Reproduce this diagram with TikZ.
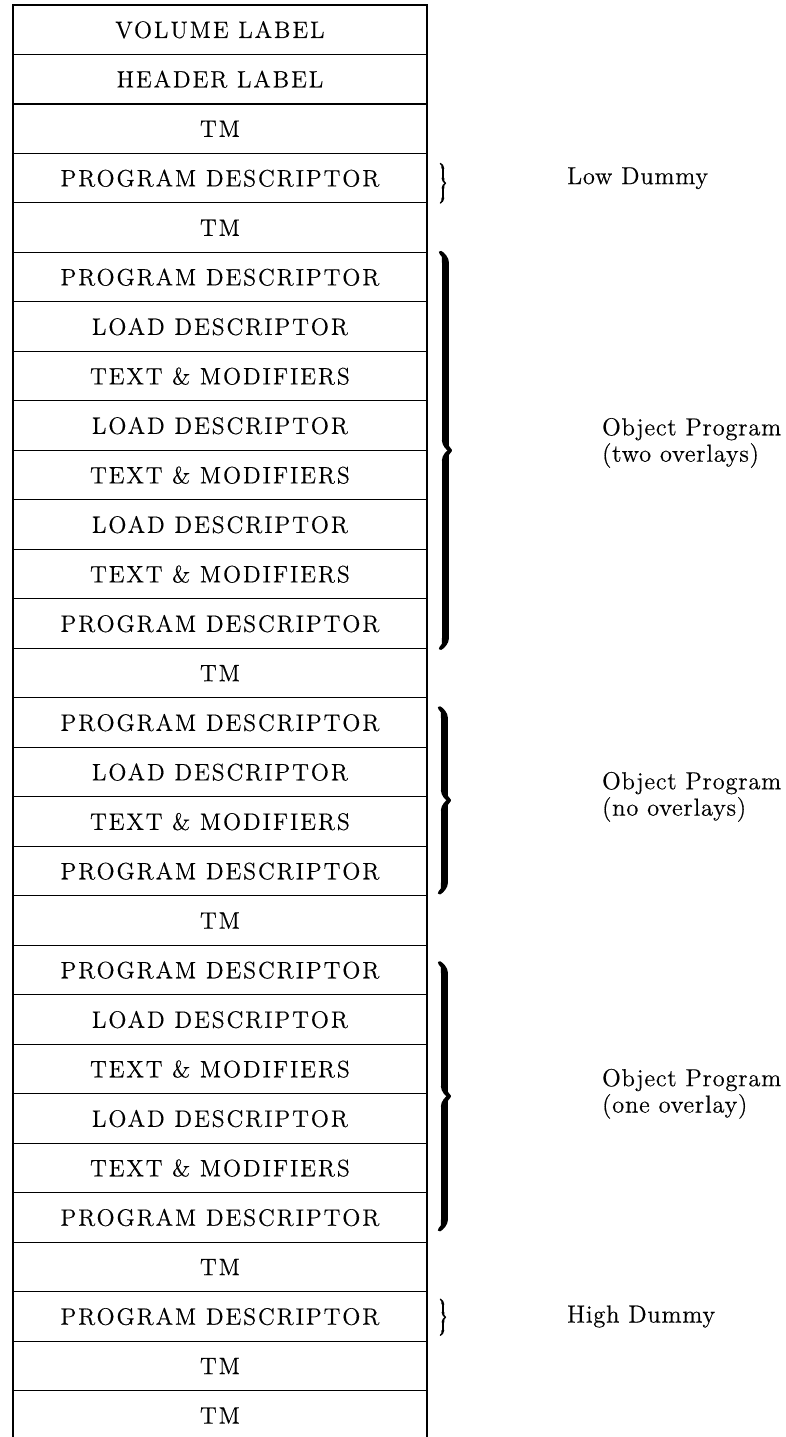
\documentclass[tikz,border=0pt]{standalone}
\usepackage{fontspec}
\usepackage{tikz}
\newfontfamily\cellfont[LetterSpace=8.0, FakeBold=0.4]{Latin Modern Roman}
\newfontfamily\notefont[LetterSpace=3.0, FakeBold=0.4]{Latin Modern Roman}
\usetikzlibrary{positioning, calc, decorations.pathreplacing, calligraphy}

\begin{document}
\begin{tikzpicture}[
        node distance=0cm,
        x=0.02cm, y=-0.02cm,
        cell/.style={rectangle, draw=black, line width=0.6pt, minimum width=8.28cm, minimum height=0.99cm, inner sep=0pt, outer sep=0pt, font=\fontsize{13.5}{16}\cellfont},
        grp/.style={decorate, decoration={calligraphic brace, amplitude=0.2cm}, line width=4pt},
        smallgrp/.style={decorate, decoration={calligraphic brace, amplitude=0.1cm}, line width=1.6pt},
        note/.style={anchor=west, align=left, font=\fontsize{14}{15}\notefont}
    ]
        \useasboundingbox (0,0) rectangle (786,1437);
        \node[cell, anchor=north west] (vol) at (13,5) {VOLUME LABEL};
        \node[cell, below=of vol] (hdr) {HEADER LABEL};
        \node[cell, below=of hdr] (tma) {TM};
        \node[cell, below=of tma] (lowpd) {PROGRAM DESCRIPTOR};
        \node[cell, below=of lowpd] (tmb) {TM};
        \node[cell, below=of tmb] (pda1) {PROGRAM DESCRIPTOR};
        \node[cell, below=of pda1] (lda1) {LOAD DESCRIPTOR};
        \node[cell, below=of lda1] (txa1) {TEXT \& MODIFIERS};
        \node[cell, below=of txa1] (lda2) {LOAD DESCRIPTOR};
        \node[cell, below=of lda2] (txa2) {TEXT \& MODIFIERS};
        \node[cell, below=of txa2] (lda3) {LOAD DESCRIPTOR};
        \node[cell, below=of lda3] (txa3) {TEXT \& MODIFIERS};
        \node[cell, below=of txa3] (pda2) {PROGRAM DESCRIPTOR};
        \node[cell, below=of pda2] (tmc) {TM};
        \node[cell, below=of tmc] (pdb1) {PROGRAM DESCRIPTOR};
        \node[cell, below=of pdb1] (ldb1) {LOAD DESCRIPTOR};
        \node[cell, below=of ldb1] (txb1) {TEXT \& MODIFIERS};
        \node[cell, below=of txb1] (pdb2) {PROGRAM DESCRIPTOR};
        \node[cell, below=of pdb2] (tmd) {TM};
        \node[cell, below=of tmd] (pdc1) {PROGRAM DESCRIPTOR};
        \node[cell, below=of pdc1] (ldc1) {LOAD DESCRIPTOR};
        \node[cell, below=of ldc1] (txc1) {TEXT \& MODIFIERS};
        \node[cell, below=of txc1] (ldc2) {LOAD DESCRIPTOR};
        \node[cell, below=of ldc2] (txc2) {TEXT \& MODIFIERS};
        \node[cell, below=of txc2] (pdc2) {PROGRAM DESCRIPTOR};
        \node[cell, below=of pdc2] (tme) {TM};
        \node[cell, below=of tme] (highpd) {PROGRAM DESCRIPTOR};
        \node[cell, below=of highpd] (tmf) {TM};
        \node[cell, below=of tmf] (tmg) {TM};
        \draw[line width=1.1pt] (vol.north west) rectangle (tmg.south east);

        \draw[smallgrp] ([xshift=0.27cm, yshift=-0.2cm]lowpd.north east) -- ([xshift=0.27cm]lowpd.south east);
        \draw[grp] ([xshift=0.27cm]pda1.north east) -- ([xshift=0.27cm]pda2.south east);
        \draw[grp] ([xshift=0.25cm, yshift=-0.2cm]pdb1.north east) -- ([xshift=0.25cm, yshift=0.06cm]pdb2.south east);
        \draw[grp] ([xshift=0.25cm, yshift=-0.35cm]pdc1.north east) -- ([xshift=0.25cm, yshift=0.25cm]pdc2.south east);
        \draw[smallgrp] ([xshift=0.27cm, yshift=-0.15cm]highpd.north east) -- ([xshift=0.27cm, yshift=0.12cm]highpd.south east);

        \node[note, right=2.68cm of lowpd.east] (lowlbl) {Low Dummy};
        \node[note, right=3.38cm of lda2.south east, yshift=0.15cm] (twolbl) {Object Program\\(two overlays)};
        \node[note, right=3.38cm of ldb1.south east] (nolbl) {Object Program\\(no overlays)};
        \node[note, right=3.38cm of txc1.south east] (onelbl) {Object Program\\(one overlay)};
        \node[note, right=2.68cm of highpd.east] (highlbl) {High Dummy};
    \end{tikzpicture}
\end{document}
